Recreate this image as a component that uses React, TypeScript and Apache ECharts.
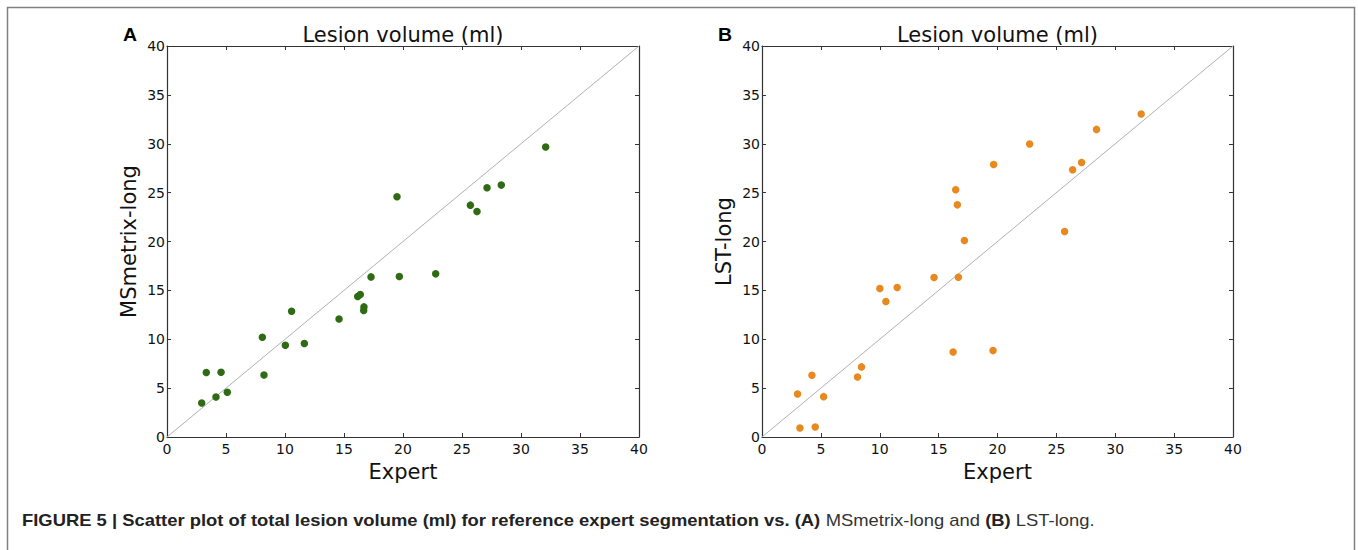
import React, { useEffect, useRef } from "react";
import * as echarts from "echarts";

// Panel A: expert vs MSmetrix-long (ml)
const expertA = [2.94, 3.33, 4.15, 4.58, 5.11, 8.08, 8.22, 10.03, 10.56, 11.64, 14.58, 16.16, 16.38, 16.69, 16.67, 17.29, 19.49, 19.69, 22.77, 25.71, 26.27, 27.12, 28.33, 32.09];
const msmetrixLong = [3.48, 6.59, 4.1, 6.62, 4.57, 10.2, 6.35, 9.39, 12.87, 9.56, 12.08, 14.37, 14.57, 13.31, 12.94, 16.38, 24.57, 16.42, 16.69, 23.72, 23.07, 25.49, 25.77, 29.66];

// Panel B: expert vs LST-long (ml)
const expertB = [3.02, 3.22, 4.24, 4.52, 5.23, 8.11, 8.45, 10.01, 10.52, 11.48, 14.61, 16.23, 16.45, 16.59, 16.68, 17.19, 19.62, 19.67, 22.73, 25.7, 26.38, 27.14, 28.41, 32.2];
const lstLong = [4.4, 0.92, 6.31, 1.02, 4.13, 6.14, 7.17, 15.19, 13.86, 15.29, 16.31, 8.7, 25.29, 23.75, 16.35, 20.1, 8.84, 27.88, 29.97, 21.02, 27.34, 28.09, 31.47, 33.04];

// identity line
const identity = [0, 40];

const axisMin = 0;
const axisMax = 40;
const axisInterval = 5;

const panelTitle = "Lesion volume (ml)";
const xName = "Expert";
const yNames = ["MSmetrix-long", "LST-long"];
const panelLetters = ["A", "B"];

const FONT = "DejaVu Sans";

export default function App() {
  const ref = useRef<HTMLDivElement>(null);

  useEffect(() => {
    const chart = echarts.init(ref.current!, null, { renderer: "svg" });

    const axisLine = { show: true, onZero: false, lineStyle: { color: "#333", width: 1.2 } };
    const axisTick = { show: true, inside: true, length: 4, lineStyle: { color: "#333", width: 1 } };

    const mkX = (gi: number, pos: string, labels: boolean) => ({
      type: "value",
      gridIndex: gi,
      position: pos,
      min: axisMin,
      max: axisMax,
      interval: axisInterval,
      splitLine: { show: false },
      axisLine,
      axisTick,
      axisLabel: { show: labels, fontFamily: FONT, fontSize: 14, color: "#111", margin: 5 },
      name: labels ? xName : "",
      nameLocation: "middle",
      nameGap: 24,
      nameTextStyle: { fontFamily: FONT, fontSize: 21, color: "#111" },
    });
    const mkY = (gi: number, pos: string, labels: boolean) => ({
      type: "value",
      gridIndex: gi,
      position: pos,
      min: axisMin,
      max: axisMax,
      interval: axisInterval,
      splitLine: { show: false },
      axisLine,
      axisTick,
      axisLabel: { show: labels, fontFamily: FONT, fontSize: 14, color: "#111", margin: 2 },
      name: labels ? yNames[gi] : "",
      nameLocation: "middle",
      nameGap: 28,
      nameTextStyle: { fontFamily: FONT, fontSize: 21, color: "#111" },
    });

    const grids = [
      { left: 167, top: 46, width: 472, height: 391 },
      { left: 762, top: 46, width: 471, height: 391 },
    ];

    const option: any = {
      animation: false,
      backgroundColor: "#fff",
      grid: grids,
      xAxis: [mkX(0, "bottom", true), mkX(1, "bottom", true), mkX(0, "top", false), mkX(1, "top", false)],
      yAxis: [mkY(0, "left", true), mkY(1, "left", true), mkY(0, "right", false), mkY(1, "right", false)],
      series: [
        {
          type: "line",
          xAxisIndex: 0,
          yAxisIndex: 0,
          data: identity.map((v) => [v, v]),
          symbol: "none",
          lineStyle: { color: "#b0b0b0", width: 1 },
          z: 1,
          silent: true,
        },
        {
          type: "line",
          xAxisIndex: 1,
          yAxisIndex: 1,
          data: identity.map((v) => [v, v]),
          symbol: "none",
          lineStyle: { color: "#b0b0b0", width: 1 },
          z: 1,
          silent: true,
        },
        {
          type: "scatter",
          xAxisIndex: 0,
          yAxisIndex: 0,
          data: expertA.map((x, i) => [x, msmetrixLong[i]]),
          symbolSize: 7.5,
          itemStyle: { color: "#2e6b12", opacity: 1 },
          z: 3,
        },
        {
          type: "scatter",
          xAxisIndex: 1,
          yAxisIndex: 1,
          data: expertB.map((x, i) => [x, lstLong[i]]),
          symbolSize: 7.5,
          itemStyle: { color: "#e8891f", opacity: 1 },
          z: 3,
        },
      ],
      graphic: [
        {
          type: "rect",
          shape: { x: 7.5, y: 7.5, width: 1347, height: 700 },
          style: { fill: "none", stroke: "#808080", lineWidth: 1.5 },
          silent: true,
        },
        ...grids.map((g) => ({
          type: "text",
          x: g.left + g.width / 2,
          y: 35,
          style: {
            text: panelTitle,
            fontFamily: FONT,
            fontSize: 21,
            fill: "#111",
            align: "center",
            verticalAlign: "middle",
          },
        })),
        ...grids.map((g, i) => ({
          type: "text",
          x: g.left - 44,
          y: 35,
          scaleX: 1.08,
          style: {
            text: panelLetters[i],
            fontFamily: "Liberation Sans",
            fontWeight: "bold",
            fontSize: 18,
            fill: "#000",
            align: "left",
            verticalAlign: "middle",
          },
        })),
        {
          type: "text",
          x: 22,
          y: 520,
          scaleX: 1.15,
          style: {
            text:
              "{b|FIGURE 5 | Scatter plot of total lesion volume (ml) for reference expert segmentation vs. (A)}{n| MSmetrix-long and }{b|(B)}{n| LST-long.}",
            fontFamily: "Liberation Sans",
            fontSize: 16,
            fill: "#222",
            align: "left",
            verticalAlign: "middle",
            rich: {
              b: { fontFamily: "Liberation Sans", fontWeight: "bold", fontSize: 16, fill: "#222" },
              n: { fontFamily: "Liberation Sans", fontWeight: "normal", fontSize: 16, fill: "#333" },
            },
          },
        },
      ],
    };

    chart.setOption(option);
    return () => chart.dispose();
  }, []);

  return (
    <div
      ref={ref}
      style={{ position: "fixed", left: 0, top: 0, width: 1358, height: 550, background: "#fff" }}
    />
  );
}
